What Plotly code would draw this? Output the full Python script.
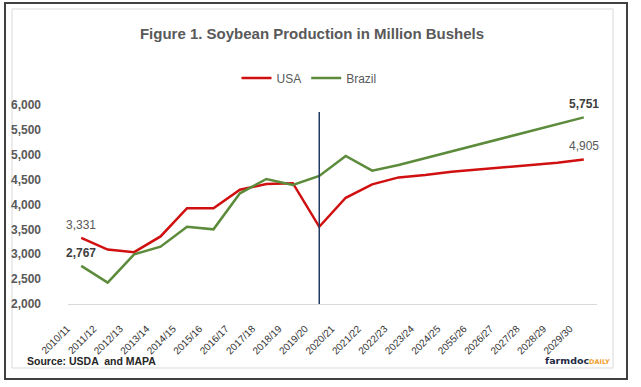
import plotly.graph_objects as go

years = ["2010/11", "2011/12", "2012/13", "2013/14", "2014/15", "2015/16", "2016/17",
         "2017/18", "2018/19", "2019/20", "2020/21", "2021/22", "2022/23", "2023/24",
         "2024/25", "2055/26", "2026/27", "2027/28", "2028/29", "2029/30"]
usa = [3331, 3094, 3042, 3358, 3927, 3926, 4296, 4412, 4428, 3552,
       4135, 4405, 4545, 4593, 4660, 4707, 4740, 4794, 4840, 4905]
brazil = [2767, 2429, 2999, 3152, 3554, 3501, 4225, 4513, 4392, 4573,
          4975, 4680, 4794, 4930, 5065, 5200, 5335, 5470, 5605, 5751]
divider_year = "2019/20"
divider_top = 5860

W, H = 641, 387
L, R, T, B = 68, 44, 105, 83
PW, PH = W - L - R, H - T - B


def px_x(p):
    return (p - L) / PW


def px_y(p):
    return (H - B - p) / PH


RED = "#D01010"
GREEN = "#5B8B3B"
FONT = "Liberation Sans, Arial, sans-serif"

fig = go.Figure()
fig.add_trace(go.Scatter(x=years, y=usa, mode="lines", name="USA",
                         line=dict(color=RED, width=2.5)))
fig.add_trace(go.Scatter(x=years, y=brazil, mode="lines", name="Brazil",
                         line=dict(color=GREEN, width=2.5)))

fig.add_shape(type="line", xref="x", yref="y", x0=divider_year, x1=divider_year,
              y0=1980, y1=divider_top, line=dict(color="#1F3864", width=1.5))

# frames
fig.add_shape(type="rect", xref="paper", yref="paper",
              x0=px_x(5), x1=px_x(627), y0=px_y(379), y1=px_y(3),
              line=dict(color="#404040", width=2), layer="below")
fig.add_shape(type="rect", xref="paper", yref="paper",
              x0=px_x(12), x1=px_x(613), y0=px_y(368), y1=px_y(9),
              line=dict(color="#D9D9D9", width=1), layer="below")

labels = [
    (years[0], usa[0], False, "#595959"),
    (years[0], brazil[0], True, "#404040"),
    (years[-1], usa[-1], False, "#595959"),
    (years[-1], brazil[-1], True, "#404040"),
]
for x, y, bold, col in labels:
    txt = f"{y:,}"
    if bold:
        txt = f"<b>{txt}</b>"
    fig.add_annotation(x=x, y=y, text=txt, showarrow=False, yshift=13,
                       font=dict(family=FONT, size=12, color=col))

fig.add_annotation(xref="paper", yref="paper", x=px_x(25), y=px_y(361),
                   xanchor="left", yanchor="middle", showarrow=False,
                   text="<b>Source: USDA  and MAPA</b>",
                   font=dict(family=FONT, size=10.5, color="#262626"))
fig.add_annotation(xref="paper", yref="paper", x=px_x(612), y=px_y(360),
                   xanchor="right", yanchor="middle", showarrow=False,
                   text="<b>farmdoc</b><span style='font-size:6.5px;color:#F0A030'><b>DAILY</b></span>",
                   font=dict(family="DejaVu Sans, sans-serif", size=9.5, color="#1F2A44"))

fig.update_layout(
    width=W, height=H,
    margin=dict(l=L, r=R, t=T, b=B, autoexpand=False),
    paper_bgcolor="white", plot_bgcolor="white",
    title=dict(text="<b>Figure 1. Soybean Production in Million Bushels</b>",
               x=312 / W, xanchor="center",
               y=1 - 34 / H, yanchor="middle",
               font=dict(family=FONT, size=15, color="#595959")),
    legend=dict(orientation="h", x=px_x(309), xanchor="center",
                y=px_y(78), yanchor="middle",
                font=dict(family=FONT, size=12, color="#595959"),
                itemwidth=30, tracegroupgap=0),
    showlegend=True,
    xaxis=dict(type="category", range=[-0.5, 19.5], showgrid=False,
               showline=True, linecolor="#D9D9D9", linewidth=1,
               tickangle=-45, ticks="", ticklabelstandoff=14, ticklabelshift=-14,
               tickfont=dict(family=FONT, size=10, color="#333333"),
               zeroline=False, fixedrange=True),
    yaxis=dict(range=[2000, 6000], dtick=500, tickformat=",d", showgrid=False,
               showline=False, zeroline=False, ticks="", ticklabelstandoff=26,
               tickfont=dict(family=FONT, size=12, color="#595959", weight="bold"),
               fixedrange=True),
)

fig.write_html("out.html", config={"displayModeBar": False},
               post_script="document.body.style.margin='0';document.body.style.overflow='hidden';")
